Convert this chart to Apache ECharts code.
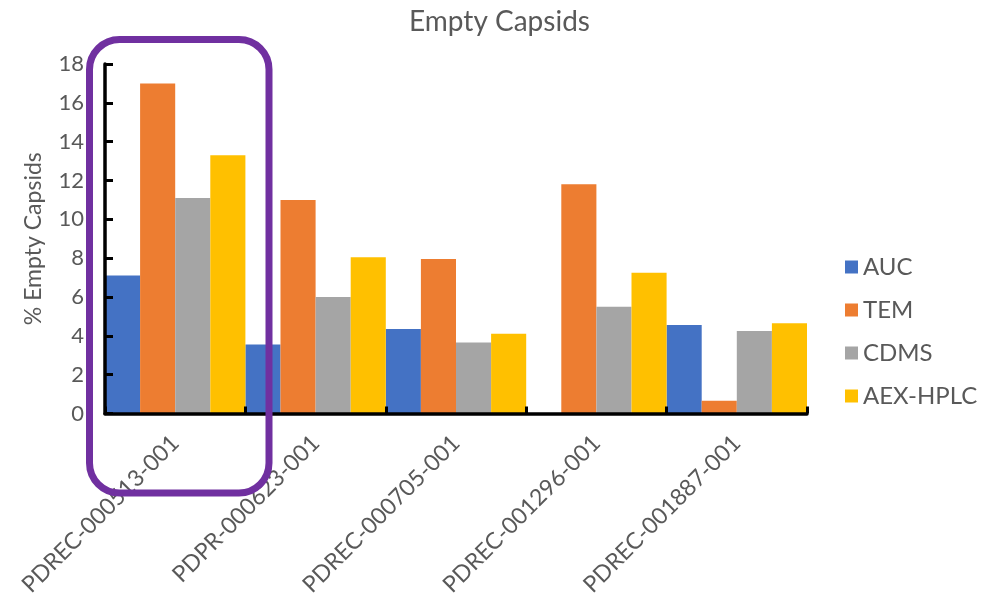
<!DOCTYPE html>
<html>
<head>
<meta charset="utf-8">
<script src="https://cdn.jsdelivr.net/npm/echarts@6/dist/echarts.min.js"></script>
<style>
  html, body { margin: 0; padding: 0; background: #ffffff; }
  #chart { width: 999px; height: 599px; }
</style>
</head>
<body>
<div id="chart"></div>
<script>
// Sample lots on the category axis
const categories = [
  'PDREC-000513-001',
  'PDPR-000623-001',
  'PDREC-000705-001',
  'PDREC-001296-001',
  'PDREC-001887-001'
];

// % empty capsids measured by each method
const aucValues  = [7.1, 3.55, 4.35, null, 4.55];
const temValues  = [17.0, 11.0, 7.95, 11.8, 0.65];
const cdmsValues = [11.1, 6.0, 3.65, 5.5, 4.25];
const aexValues  = [13.3, 8.05, 4.1, 7.25, 4.65];

const seriesNames = ['AUC', 'TEM', 'CDMS', 'AEX-HPLC'];
const seriesColors = ['#4472C4', '#ED7D31', '#A5A5A5', '#FFC000'];
const seriesValues = [aucValues, temValues, cdmsValues, aexValues];

const yTicks = { min: 0, max: 18, step: 2 };

const textColor = '#595959';
const fontFamily = 'Lato, "Open Sans", sans-serif';

const chart = echarts.init(document.getElementById('chart'), null, { renderer: 'canvas' });

chart.setOption({
  animation: false,
  backgroundColor: '#ffffff',
  textStyle: { fontFamily: fontFamily, color: textColor },
  title: {
    text: 'Empty Capsids',
    left: 'center',
    top: 3,
    textStyle: { fontFamily: fontFamily, fontSize: 28, fontWeight: 'normal', color: textColor }
  },
  legend: {
    orient: 'vertical',
    left: 840,
    top: 250,
    itemWidth: 13,
    itemHeight: 13,
    itemGap: 19,
    icon: 'rect',
    data: seriesNames,
    textStyle: { fontFamily: fontFamily, fontSize: 24, color: textColor, padding: [0, 0, 0, 0] }
  },
  grid: { left: 105, right: 192, top: 64, bottom: 185, containLabel: false },
  xAxis: {
    type: 'category',
    data: categories,
    boundaryGap: true,
    z: 5,
    axisLine: { show: true, lineStyle: { color: '#000000', width: 3.5 } },
    axisTick: { show: true, inside: true, length: 7, alignWithLabel: false, lineStyle: { color: '#000000', width: 3 } },
    axisLabel: {
      rotate: 45,
      margin: 26,
      interval: 0,
      fontFamily: fontFamily,
      fontSize: 23,
      color: textColor
    },
    splitLine: { show: false }
  },
  yAxis: {
    type: 'value',
    min: yTicks.min,
    max: yTicks.max,
    interval: yTicks.step,
    z: 5,
    name: '% Empty Capsids',
    nameLocation: 'middle',
    nameGap: 60,
    nameRotate: 90,
    nameTextStyle: { fontFamily: fontFamily, fontSize: 23, color: textColor },
    axisLine: { show: true, lineStyle: { color: '#000000', width: 3.5 } },
    axisTick: { show: true, inside: true, length: 8, lineStyle: { color: '#000000', width: 3 } },
    axisLabel: { margin: 21, fontFamily: fontFamily, fontSize: 22, color: textColor },
    splitLine: { show: false }
  },
  series: seriesNames.map((name, i) => ({
    name: name,
    type: 'bar',
    data: seriesValues[i],
    barGap: '0%',
    barCategoryGap: '0%',
    itemStyle: { color: seriesColors[i] },
    z: 1
  })),
  graphic: [{
    // rounded highlight around the first lot
    type: 'rect',
    z: 100,
    shape: { x: 89.5, y: 39.5, width: 179.5, height: 453.5, r: 30 },
    style: { fill: 'none', stroke: '#7030A0', lineWidth: 7 }
  }]
});
</script>
</body>
</html>
